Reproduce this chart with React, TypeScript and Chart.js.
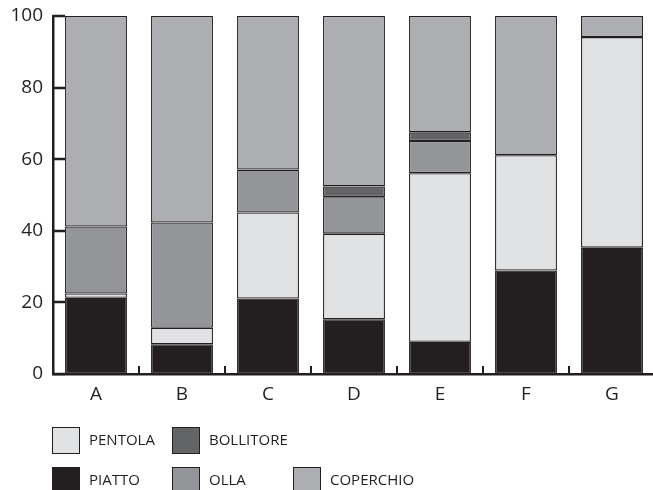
import React, { useEffect, useRef } from "react";
import { Chart, registerables } from "chart.js";

Chart.register(...registerables);

const categories = ["A", "B", "C", "D", "E", "F", "G"];
const piatto = [21.3, 8.3, 21.1, 15.3, 9.0, 28.9, 35.3];
const pentola = [1.2, 4.6, 24.0, 23.9, 47.1, 32.2, 58.8];
const olla = [18.7, 29.4, 12.0, 10.2, 9.0, null, null];
const bollitore = [null, null, null, 3.0, 2.4, null, null];
const coperchio = [58.8, 57.7, 42.9, 47.6, 32.5, 38.9, 5.9];
const yTicks = [0, 20, 40, 60, 80, 100];

const INK = "#231f20";
const FONT = "'Open Sans', sans-serif";

const COLORS = {
  PIATTO: "#231f20",
  PENTOLA: "#e1e2e3",
  OLLA: "#939598",
  BOLLITORE: "#636466",
  COPERCHIO: "#adaeb1",
};

const legendRows = [
  ["PENTOLA", "BOLLITORE"],
  ["PIATTO", "OLLA", "COPERCHIO"],
];

const extrasPlugin = {
  id: "extras",
  afterDraw(chart: any) {
    const { ctx, chartArea, scales } = chart;
    const x = scales.x;
    const y = scales.y;
    ctx.save();
    ctx.strokeStyle = INK;
    ctx.lineWidth = 2.5;
    y.ticks.forEach((t: any) => {
      const py = Math.round(y.getPixelForValue(t.value));
      ctx.beginPath();
      ctx.moveTo(chartArea.left, py);
      ctx.lineTo(chartArea.left + 12, py);
      ctx.stroke();
    });
    ctx.lineWidth = 2;
    for (let i = 0; i < categories.length - 1; i++) {
      const px = (x.getPixelForValue(i) + x.getPixelForValue(i + 1)) / 2;
      ctx.beginPath();
      ctx.moveTo(px, chartArea.bottom);
      ctx.lineTo(px, chartArea.bottom - 8);
      ctx.stroke();
    }
    // legend
    const colX = [52, 172, 293];
    const rowY = [427, 467];
    ctx.font = `15px ${FONT}`;
    ctx.textBaseline = "middle";
    ctx.textAlign = "left";
    ctx.lineWidth = 1;
    legendRows.forEach((row, r) => {
      row.forEach((label, c) => {
        const bx = colX[c];
        const by = rowY[r];
        ctx.fillStyle = (COLORS as any)[label];
        ctx.fillRect(bx, by, 28, 27);
        ctx.strokeStyle = INK;
        ctx.strokeRect(bx + 0.5, by + 0.5, 27, 26);
        ctx.fillStyle = INK;
        ctx.fillText(label, bx + 37, by + 14);
      });
    });
    ctx.restore();
  },
};

export default function App() {
  const ref = useRef<HTMLCanvasElement>(null);
  useEffect(() => {
    if (!ref.current) return;
    const mk = (label: string, data: (number | null)[]) => ({
      label,
      data,
      backgroundColor: (COLORS as any)[label],
      borderColor: INK,
      borderWidth: 1.3,
      borderSkipped: false as const,
      categoryPercentage: 1,
      barPercentage: 0.72,
    });
    const chart = new Chart(ref.current, {
      type: "bar",
      data: {
        labels: categories,
        datasets: [
          mk("PIATTO", piatto),
          mk("PENTOLA", pentola),
          mk("OLLA", olla),
          mk("BOLLITORE", bollitore),
          mk("COPERCHIO", coperchio),
        ],
      },
      options: {
        animation: false,
        responsive: true,
        maintainAspectRatio: false,
        layout: { padding: { top: 16, right: 0, bottom: 70, left: 0 } },
        plugins: { legend: { display: false }, tooltip: { enabled: false } },
        scales: {
          x: {
            stacked: true,
            grid: { display: false, drawTicks: false },
            border: { display: true, color: INK, width: 2.5 },
            ticks: { color: INK, font: { family: FONT, size: 19 }, padding: 9 },
            afterFit: (s: any) => {
              s.height = 46;
              s.paddingLeft = 0;
              s.paddingRight = 0;
            },
          },
          y: {
            stacked: true,
            min: 0,
            max: 100,
            afterBuildTicks: (s: any) => {
              s.ticks = yTicks.map((v) => ({ value: v }));
            },
            grid: { display: false, drawTicks: false },
            border: { display: true, color: INK, width: 2.5 },
            ticks: { color: INK, font: { family: FONT, size: 19 }, padding: 10 },
            afterFit: (s: any) => {
              s.width = 53;
              s.paddingTop = 0;
              s.paddingBottom = 0;
            },
          },
        },
      },
      plugins: [extrasPlugin],
    });
    return () => chart.destroy();
  }, []);
  return (
    <div style={{ position: "absolute", left: 0, top: 0, width: 653, height: 490, overflow: "hidden", background: "#fff" }}>
      <div style={{ position: "relative", width: 655, height: 490 }}>
        <canvas ref={ref} />
      </div>
    </div>
  );
}
